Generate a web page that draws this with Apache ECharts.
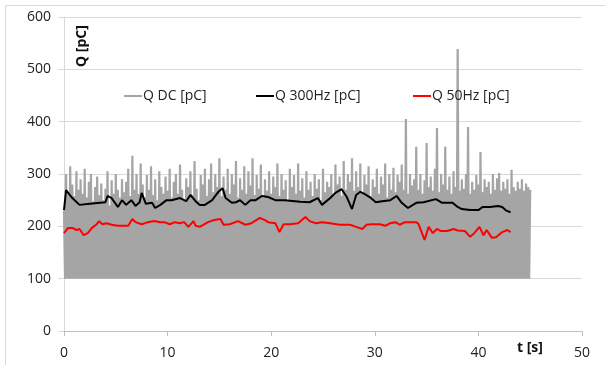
<!DOCTYPE html>
<html>
<head>
<meta charset="utf-8">
<script src="https://cdn.jsdelivr.net/npm/echarts@6/dist/echarts.min.js"></script>
<style>
  html, body { margin: 0; padding: 0; background: #fff; }
  #chart { width: 605px; height: 365px; }
</style>
</head>
<body>
<div id="chart"></div>
<script>
// Q DC: peak of each discharge, one every 0.2 s, the trace drops back to the floor between peaks
const dcStep = 0.2;
const dcFloor = 100;
const dcPeaks = [
  230, 300, 265, 315, 280, 258, 305, 270, 290, 262,
  310, 255, 285, 300, 248, 275, 295, 260, 282, 250,
  272, 305, 240, 288, 262, 300, 270, 255, 290, 265,
  285, 310, 258, 335, 270, 300, 262, 320, 280, 255,
  298, 270, 315, 260, 290, 250, 305, 275, 262, 295,
  268, 310, 255, 285, 300, 262, 318, 270, 250, 292,
  275, 305, 260, 325, 272, 250, 298, 280, 310, 258,
  290, 320, 265, 300, 275, 330, 258, 295, 270, 310,
  262, 300, 280, 325, 255, 292, 270, 315, 262, 305,
  278, 330, 260, 298, 272, 318, 255, 290, 268, 305,
  262, 295, 275, 320, 258, 300, 270, 288, 250, 310,
  275, 298, 262, 320, 268, 292, 255, 305, 270, 285,
  258, 300, 272, 290, 250, 310, 265, 285, 275, 300,
  262, 318, 280, 295, 258, 325, 270, 300, 285, 330,
  268, 305, 275, 320, 262, 298, 280, 315, 258, 290,
  275, 310, 262, 295, 280, 320, 255, 300, 270, 312,
  265, 298, 285, 318, 270, 405, 262, 300, 278, 290,
  352, 270, 300, 262, 288, 359, 275, 295, 268, 310,
  388, 265, 300, 280, 352, 270, 295, 262, 305, 275,
  539, 268, 290, 272, 300, 390, 262, 285, 270, 298,
  280, 342, 265, 290, 275, 285, 262, 300, 270, 292,
  302, 268, 285, 272, 290, 262, 308, 275, 268, 285,
  272, 290, 268, 282, 275, 270
];

// Q 300Hz
const q300T = [0.0, 0.2, 0.8, 1.5, 2.5, 3.5, 4.0, 4.2, 4.6, 5.2, 5.6, 6.0, 6.5, 6.9, 7.3, 7.5, 7.9, 8.5, 8.8, 9.3,
  9.9, 10.4, 11.2, 11.8, 12.2, 12.7, 13.1, 13.6, 14.3, 14.9, 15.3, 15.6, 16.2, 16.6, 17.0, 17.5, 18.0, 18.5, 19.1, 19.7,
  20.4, 21.3, 22.3, 22.8, 23.7, 24.5, 24.9, 25.7, 26.2, 26.8, 27.3, 27.8, 28.2, 28.6, 29.0, 29.5, 30.1, 30.7, 31.5, 32.1,
  32.6, 33.2, 34.0, 34.7, 35.9, 36.5, 37.0, 37.5, 38.0, 38.4, 39.2, 40.0, 40.4, 41.1, 41.9, 42.3, 42.7, 43.1];
const q300 = [231, 269, 254, 241, 243, 245, 246, 258, 254, 237, 250, 241, 250, 239, 246, 264, 243, 245, 235, 241,
  250, 250, 254, 248, 260, 248, 241, 241, 250, 266, 273, 254, 245, 246, 250, 241, 250, 250, 258, 256,
  250, 250, 248, 247, 246, 254, 241, 254, 264, 271, 256, 233, 260, 266, 262, 256, 246, 248, 250, 258,
  245, 235, 245, 246, 252, 245, 245, 245, 237, 233, 231, 231, 237, 237, 239, 237, 230, 227];

// Q 50Hz
const q50T = [0.0, 0.4, 0.8, 1.2, 1.5, 1.9, 2.3, 2.7, 3.1, 3.4, 3.7, 4.1, 4.6, 5.2, 5.8, 6.2, 6.6, 6.9, 7.5, 8.1,
  8.7, 9.3, 9.7, 10.2, 10.7, 11.2, 11.6, 12.0, 12.5, 12.7, 13.1, 13.9, 14.5, 15.1, 15.4, 16.0, 16.8, 17.5, 18.1, 18.9,
  19.4, 19.7, 20.4, 20.8, 21.2, 21.8, 22.6, 23.3, 23.7, 24.3, 24.9, 25.7, 26.6, 27.6, 28.2, 28.8, 29.2, 29.7, 30.5, 31.0,
  31.5, 32.0, 32.4, 32.9, 33.4, 34.0, 34.2, 34.5, 34.8, 35.2, 35.6, 36.0, 36.4, 37.0, 37.6, 38.0, 38.7, 39.2, 39.6, 40.1,
  40.5, 40.8, 41.3, 41.7, 42.3, 42.8, 43.1];
const q50 = [187, 197, 197, 193, 195, 183, 187, 197, 203, 210, 204, 206, 203, 201, 201, 201, 214, 208, 204, 208,
  210, 208, 208, 204, 208, 206, 208, 199, 210, 201, 199, 208, 212, 214, 203, 204, 210, 203, 206, 216,
  212, 208, 206, 189, 204, 204, 206, 218, 210, 206, 208, 206, 203, 203, 199, 195, 203, 204, 204, 201,
  206, 208, 203, 208, 208, 208, 205, 190, 174, 199, 187, 195, 191, 191, 195, 192, 191, 180, 187, 199,
  183, 193, 178, 179, 189, 193, 189];

const xTicks = [0, 10, 20, 30, 40, 50];
const yTicks = [0, 100, 200, 300, 400, 500, 600];

const dcData = [];
dcPeaks.forEach(function (v, i) {
  const t = i * dcStep;
  dcData.push([t, v]);
  if (i < dcPeaks.length - 1) dcData.push([t + dcStep / 2, dcFloor]);
});
const pairs = (ts, vs) => ts.map((t, i) => [t, vs[i]]);

const font = '"Open Sans", "DejaVu Sans", sans-serif';
const chart = echarts.init(document.getElementById('chart'), null, { renderer: 'canvas' });

const legendBase = {
  top: 89,
  padding: 0,
  icon: 'rect',
  itemWidth: 18,
  itemHeight: 2,
  textStyle: { fontFamily: font, fontSize: 14, color: '#222', padding: [0, 0, 0, -4] },
  selectedMode: false
};

chart.setOption({
  animation: false,
  backgroundColor: '#fff',
  grid: { left: 64, right: 23, top: 17, bottom: 34 },
  legend: [
    Object.assign({ left: 124, data: ['Q DC [pC]'] }, legendBase),
    Object.assign({ left: 256, data: ['Q 300Hz [pC]'] }, legendBase),
    Object.assign({ left: 413, data: ['Q 50Hz [pC]'] }, legendBase)
  ],
  xAxis: {
    type: 'value',
    min: xTicks[0],
    max: xTicks[xTicks.length - 1],
    interval: 10,
    axisLine: { lineStyle: { color: '#bfbfbf', width: 1 } },
    axisTick: { show: true, length: 5, lineStyle: { color: '#bfbfbf' } },
    splitLine: { show: false },
    axisLabel: { fontFamily: font, fontSize: 14, color: '#222', margin: 15 }
  },
  yAxis: {
    type: 'value',
    min: yTicks[0],
    max: yTicks[yTicks.length - 1],
    interval: 100,
    axisLine: { show: true, lineStyle: { color: '#d9d9d9' } },
    axisTick: { show: true, length: 6, lineStyle: { color: '#d9d9d9' } },
    splitLine: { lineStyle: { color: '#d9d9d9', width: 1 } },
    axisLabel: { fontFamily: font, fontSize: 14, color: '#222', margin: 13 }
  },
  graphic: [
    {
      type: 'rect', silent: true, z: -1,
      shape: { x: 5.5, y: 5.5, width: 700, height: 400 },
      style: { fill: 'none', stroke: '#d9d9d9', lineWidth: 1 }
    },
    {
      type: 'text', x: 75, y: 67, rotation: Math.PI / 2,
      style: { text: 'Q [pC]', font: 'bold 14px ' + font, fill: '#111', align: 'left', verticalAlign: 'top' }
    },
    {
      type: 'text', x: 517, y: 348,
      style: { text: 't [s]', font: 'bold 14px ' + font, fill: '#111', align: 'left', verticalAlign: 'middle' }
    }
  ],
  series: [
    {
      name: 'Q DC [pC]',
      type: 'line',
      data: dcData,
      showSymbol: false,
      z: 1,
      color: '#a5a5a5',
      lineStyle: { color: '#a5a5a5', width: 2.2, join: 'miter' }
    },
    {
      name: 'Q 300Hz [pC]',
      type: 'line',
      data: pairs(q300T, q300),
      showSymbol: false,
      z: 3,
      color: '#000',
      lineStyle: { color: '#000', width: 2 }
    },
    {
      name: 'Q 50Hz [pC]',
      type: 'line',
      data: pairs(q50T, q50),
      showSymbol: false,
      z: 4,
      color: '#f00',
      lineStyle: { color: '#f00', width: 2 }
    }
  ]
});
</script>
</body>
</html>
